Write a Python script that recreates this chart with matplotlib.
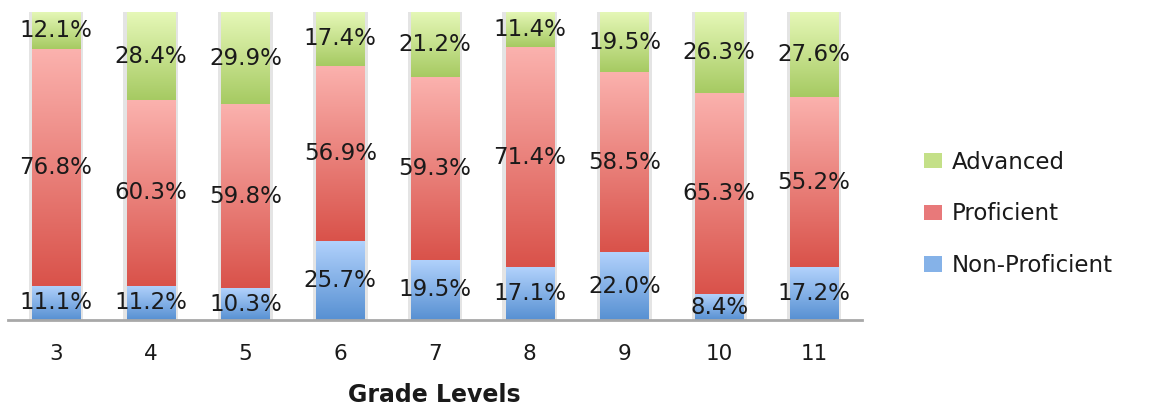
import matplotlib
matplotlib.use("Agg")
import matplotlib.pyplot as plt
import numpy as np
from matplotlib.colors import LinearSegmentedColormap
from matplotlib.patches import Patch

grades = ["3", "4", "5", "6", "7", "8", "9", "10", "11"]
non_proficient = [11.1, 11.2, 10.3, 25.7, 19.5, 17.1, 22.0, 8.4, 17.2]
proficient = [76.8, 60.3, 59.8, 56.9, 59.3, 71.4, 58.5, 65.3, 55.2]
advanced = [12.1, 28.4, 29.9, 17.4, 21.2, 11.4, 19.5, 26.3, 27.6]

# (bottom colour, top colour) for each gradient fill
series = [
    ("Non-Proficient", non_proficient, "#5790d2", "#b2d2fc"),
    ("Proficient", proficient, "#d9524a", "#fbb2ae"),
    ("Advanced", advanced, "#a6ca62", "#e6f8b8"),
]

W, H = 1164, 409
fig = plt.figure(figsize=(W / 100, H / 100), dpi=100)
ax = fig.add_axes([8 / W, (H - 320) / H, 854 / W, 308 / H])

x = np.arange(len(grades))
bw = 0.507

# light grey band behind every bar
ax.bar(x, 100, width=bw + 0.07, color="#e4e4e4", zorder=1)

grad = np.linspace(0, 1, 256).reshape(-1, 1)
bottom = np.zeros(len(grades))
for name, vals, c0, c1 in series:
    cmap = LinearSegmentedColormap.from_list(name, [c0, c1])
    bars = ax.bar(x, vals, width=bw, bottom=bottom, facecolor="none",
                  edgecolor="none", zorder=2)
    for b in bars:
        x0, y0 = b.get_x(), b.get_y()
        im = ax.imshow(grad, cmap=cmap, origin="lower", aspect="auto",
                       extent=(x0, x0 + b.get_width(), y0, y0 + b.get_height()),
                       zorder=2)
        im.set_clip_path(b)
    for xi, v, b0 in zip(x, vals, bottom):
        ax.text(xi, b0 + v / 2, f"{v:.1f}%", ha="center", va="center",
                fontsize=16.5, color="#1a1a1a", zorder=5)
    bottom = bottom + np.array(vals)

ax.set_xlim(-0.507, len(grades) - 1 + 0.507)
ax.set_ylim(0, 100)
ax.set_yticks([])
ax.set_xticks(x)
ax.set_xticklabels(grades, fontsize=15.5, color="#1a1a1a")
ax.tick_params(axis="x", length=0, pad=17)
for s in ["top", "right", "left"]:
    ax.spines[s].set_visible(False)
ax.spines["bottom"].set_color("#a8a8a8")
ax.spines["bottom"].set_linewidth(2)
ax.spines["bottom"].set_zorder(6)

fig.text(434 / W, 1 - 395 / H, "Grade Levels", ha="center", va="center",
         fontsize=17, fontweight="bold", color="#1a1a1a")

handles = [Patch(facecolor=c, edgecolor="none") for c in ["#c4e088", "#e8797a", "#85b2e8"]]
labels = ["Advanced", "Proficient", "Non-Proficient"]
fig.legend(handles, labels, loc="center left", bbox_to_anchor=(924 / W, 1 - 214 / H),
           frameon=False, fontsize=16.5, labelspacing=1.25, handlelength=0.8,
           handleheight=0.65, handletextpad=0.4, borderpad=0, borderaxespad=0,
           labelcolor="#1a1a1a")

fig.savefig("out.png", dpi=100)
